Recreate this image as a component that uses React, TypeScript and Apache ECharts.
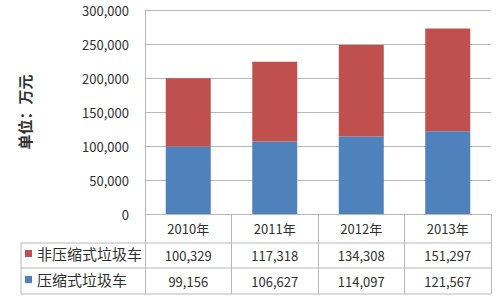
import React, { useEffect, useRef } from "react";
import * as echarts from "echarts";

const categories = ["2010年", "2011年", "2012年", "2013年"];
const seriesNames = ["压缩式垃圾车", "非压缩式垃圾车"];
const compressed = [99156, 106627, 114097, 121567];
const nonCompressed = [100329, 117318, 134308, 151297];
const yTicks = [0, 50000, 100000, 150000, 200000, 250000, 300000];

const fmt = (v: number) => v.toLocaleString("en-US");
const FONT = "'Noto Sans CJK SC', 'Noto Sans', sans-serif";
const GRID = "#b8b8b8";
const TXT = "#303030";

export default function App() {
  const ref = useRef<HTMLDivElement>(null);
  useEffect(() => {
    if (!ref.current) return;
    const chart = echarts.init(ref.current, null, { renderer: "svg" });
    const left = 145, right = 491, top = 10, bottom = 214;
    chart.setOption({
      animation: false,
      textStyle: { fontFamily: FONT },
      grid: { left, top, width: right - left, height: bottom - top },
      legend: [
        {
          data: [seriesNames[1]], left: 25, top: 246, padding: 0, orient: "vertical",
          itemWidth: 7, itemHeight: 7, icon: "rect", itemGap: 4,
          textStyle: { fontSize: 15, color: TXT, fontFamily: FONT },
        },
        {
          data: [seriesNames[0]], left: 25, top: 272, padding: 0, orient: "vertical",
          itemWidth: 7, itemHeight: 7, icon: "rect", itemGap: 4,
          textStyle: { fontSize: 15, color: TXT, fontFamily: FONT },
        },
      ],
      xAxis: {
        type: "category",
        data: categories,
        axisLine: { show: true, lineStyle: { color: GRID } },
        axisTick: { show: true, length: 80, lineStyle: { color: GRID } },
        axisLabel: {
          margin: 0,
          interval: 0,
          verticalAlign: "top",
          formatter: (val: string) => {
            const i = categories.indexOf(val);
            return `{a|${val}}\n{b|${fmt(nonCompressed[i])}}\n{c|${fmt(compressed[i])}}`;
          },
          rich: {
            a: { fontSize: 13, lineHeight: 29, color: TXT, fontFamily: FONT, verticalAlign: "middle" },
            b: { fontSize: 13, lineHeight: 25, color: TXT, fontFamily: FONT, verticalAlign: "middle" },
            c: { fontSize: 13, lineHeight: 26, color: TXT, fontFamily: FONT, verticalAlign: "middle" },
          },
        },
      },
      yAxis: {
        type: "value",
        min: yTicks[0],
        max: yTicks[yTicks.length - 1],
        interval: yTicks[1] - yTicks[0],
        name: "单位：万元",
        nameLocation: "middle",
        nameRotate: 90,
        nameGap: 113,
        nameTextStyle: { fontSize: 15, fontWeight: "bold", color: TXT, fontFamily: FONT },
        axisLine: { show: true, lineStyle: { color: GRID } },
        axisTick: { show: false },
        splitLine: { lineStyle: { color: GRID } },
        axisLabel: { fontSize: 13, color: TXT, margin: 16, formatter: (v: number) => fmt(v) },
      },
      series: [
        {
          name: seriesNames[0], type: "bar", stack: "total", barWidth: 45,
          itemStyle: { color: "#4F81BD" }, data: compressed,
        },
        {
          name: seriesNames[1], type: "bar", stack: "total", barWidth: 45,
          itemStyle: { color: "#C0504D" }, data: nonCompressed,
        },
      ],
      graphic: [
        { type: "line", shape: { x1: 21, y1: 243, x2: right, y2: 243 }, style: { stroke: GRID, lineWidth: 1 } },
        { type: "line", shape: { x1: 21, y1: 268, x2: right, y2: 268 }, style: { stroke: GRID, lineWidth: 1 } },
        { type: "line", shape: { x1: 21, y1: 294, x2: right, y2: 294 }, style: { stroke: GRID, lineWidth: 1 } },
        { type: "line", shape: { x1: 21, y1: 243, x2: 21, y2: 294 }, style: { stroke: GRID, lineWidth: 1 } },
      ],
    });
    return () => chart.dispose();
  }, []);
  return <div ref={ref} style={{ width: 500, height: 297, position: "absolute", left: 0, top: 0 }} />;
}
